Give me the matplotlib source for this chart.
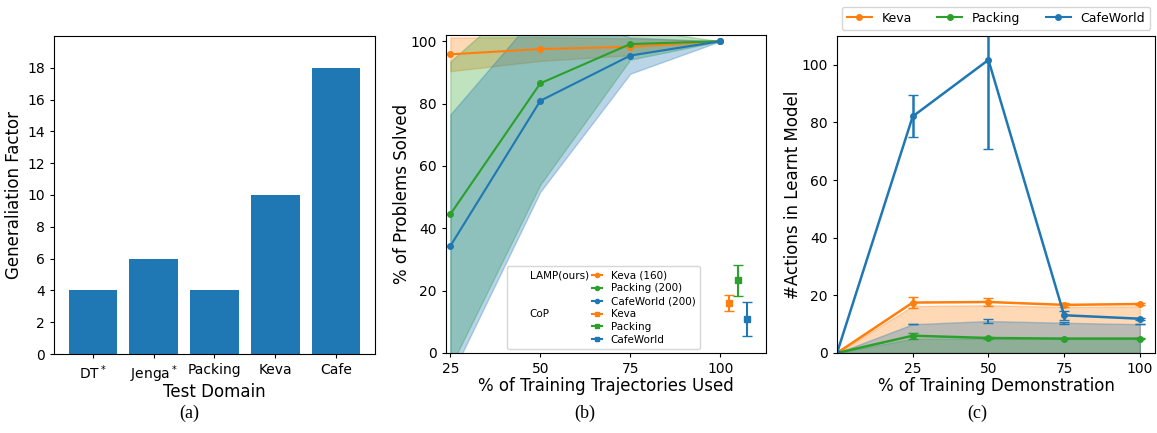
import numpy as np
import matplotlib
matplotlib.use('Agg')
import matplotlib.pyplot as plt
from matplotlib.lines import Line2D

# (a) generalisation factor per test domain
domains = ['DT$^*$', 'Jenga$^*$', 'Packing', 'Keva', 'Cafe']
gen_factor = [4, 6, 4, 10, 18]

# (b) % of problems solved vs % of training trajectories
traj_pct = [25, 50, 75, 100]
lamp_names = ['Keva (160)', 'Packing (200)', 'CafeWorld (200)']
lamp_mean = [[95.8, 97.5, 98.2, 100.0],
             [44.5, 86.5, 99.1, 100.0],
             [34.3, 80.9, 95.4, 100.0]]
lamp_std = [[5.4, 3.8, 2.7, 0.0],
            [49.0, 32.5, 5.0, 0.0],
            [42.2, 29.2, 5.8, 0.0]]
cop_names = ['Keva', 'Packing', 'CafeWorld']
cop_x = [102.5, 105.0, 107.5]
cop_mean = [16.0, 23.3, 10.9]
cop_err = [2.6, 5.0, 5.3]

# (c) number of actions in learnt model
demo_pct = [0, 25, 50, 75, 100]
act_names = ['Keva', 'Packing', 'CafeWorld']
act_mean = [[0, 17.5, 17.7, 16.7, 17.0],
            [0, 6.0, 5.2, 5.0, 5.0],
            [0, 82.1, 101.7, 13.1, 11.9]]
act_err = [[0, 2.0, 1.5, 0.8, 0.3],
           [0, 1.1, 0.3, 0.3, 0.3],
           [0, 7.3, 30.8, 1.6, 0.3]]
act_fill = [[0, 16.3, 16.6, 16.0, 16.2],
            [0, 5.0, 5.0, 4.9, 4.9],
            [0, 10.0, 11.1, 10.5, 10.0]]
act_fill_err = [0, 0, 0.8, 0.4, 0]

colors = ['tab:orange', 'tab:green', 'tab:blue']

plt.rcParams['xtick.major.size'] = 3
plt.rcParams['ytick.major.size'] = 3

W, H = 1157, 433
fig = plt.figure(figsize=(W / 100, H / 100), dpi=100)

def px_axes(left, top, right, bottom):
    return fig.add_axes([left / W, 1 - bottom / H, (right - left) / W, (bottom - top) / H])

# ---- (a)
ax = px_axes(54, 36, 375, 354)
ax.bar(np.arange(len(domains)), gen_factor, width=0.8, color='tab:blue')
ax.set_xticks(np.arange(len(domains)))
ax.set_xticklabels(domains)
ax.set_ylim(0, 20)
ax.set_yticks(range(0, 20, 2))
ax.tick_params(labelsize=10)
ax.set_xlabel('Test Domain', fontsize=12, labelpad=-1)
ax.set_ylabel('Generaliation Factor', fontsize=12, labelpad=3)

# ---- (b)
ax = px_axes(446, 35, 766, 353)
x = np.array(traj_pct)
for i in range(3):
    m = np.array(lamp_mean[i])
    s = np.array(lamp_std[i])
    ax.fill_between(x, m - s, m + s, color=colors[i], alpha=0.3)
for i in range(3):
    ax.plot(x, lamp_mean[i], '-o', color=colors[i], ms=4)
for i in range(3):
    ax.errorbar(cop_x[i], cop_mean[i], yerr=cop_err[i], fmt='s', color=colors[i],
                ms=4.5, capsize=3.5)
ax.set_xlim(23.8, 112.7)
ax.set_ylim(0, 102)
ax.set_xticks(traj_pct)
ax.set_yticks(range(0, 101, 20))
ax.tick_params(labelsize=10)
ax.set_xlabel('% of Training Trajectories Used', fontsize=12, labelpad=1)
ax.set_ylabel('% of Problems Solved', fontsize=12, labelpad=0)

blank = Line2D([], [], linestyle='none', marker='none')
handles = [blank, blank, blank, blank, blank, blank]
labels = ['LAMP(ours)', '', '', 'CoP', '', '']
for i in range(3):
    handles.append(Line2D([], [], color=colors[i], marker='o', ms=3))
    labels.append(lamp_names[i])
for i in range(3):
    handles.append(Line2D([], [], color=colors[i], marker='s', ms=3.5))
    labels.append(cop_names[i])
ax.legend(handles, labels, ncol=2, loc='lower left', bbox_to_anchor=(0.19, 0.012),
          fontsize=7.5, handlelength=1.0, columnspacing=0.3, labelspacing=0.28,
          borderaxespad=0)

# ---- (c)
ax = px_axes(837, 36, 1155, 353)
x = np.array(demo_pct)
for i in range(3):
    ax.fill_between(x, 0, act_fill[i], color=colors[i], alpha=0.3)
ax.errorbar(x, act_fill[2], yerr=act_fill_err, fmt='none', color='tab:blue', capsize=3.5)
for i in range(3):
    ax.errorbar(x, act_mean[i], yerr=act_err[i], fmt='-o', color=colors[i], ms=4,
                capsize=3.5, lw=1.8)
lh = [Line2D([], [], color=colors[i], marker='o', ms=4) for i in range(3)]
ax.legend(lh, act_names, ncol=3, loc='lower center', bbox_to_anchor=(0.5, 1.02),
          fontsize=9, borderaxespad=0)
ax.set_xlim(0, 105)
ax.set_ylim(0, 110)
ax.set_xticks([25, 50, 75, 100])
ax.set_yticks(range(0, 101, 20))
ax.tick_params(labelsize=10)
ax.set_xlabel('% of Training Demonstration', fontsize=12, labelpad=1)
ax.set_ylabel('#Actions in Learnt Model', fontsize=12, labelpad=0)

# captions
for cx, lab in [(189, '(a)'), (585, '(b)'), (977, '(c)')]:
    fig.text(cx / W, 1 - 413 / H, lab, ha='center', va='center',
             fontsize=13, family='Liberation Serif')

fig.savefig('out.png', dpi=100)
